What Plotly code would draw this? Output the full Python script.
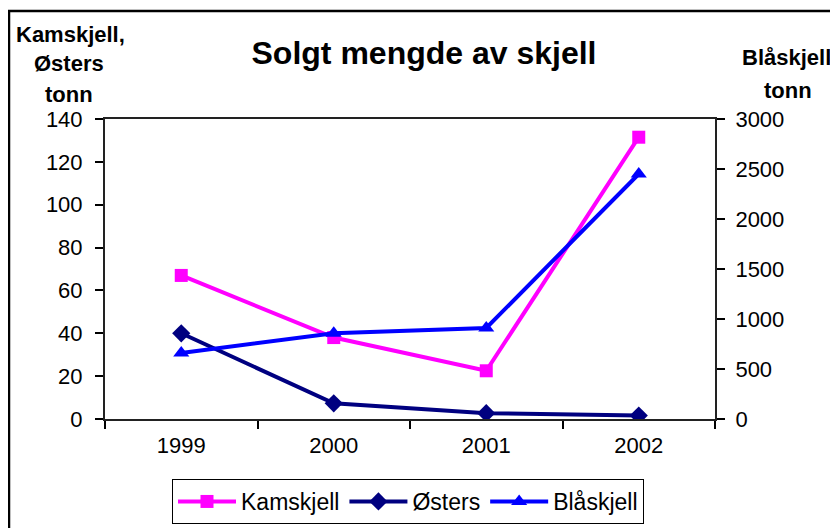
import plotly.graph_objects as go

years = ["1999", "2000", "2001", "2002"]
kamskjell = [67, 38, 22.5, 131.5]
osters = [40, 7.3, 2.7, 1.6]
blaskjell = [660, 857, 910, 2450]

left_ticks = [0, 20, 40, 60, 80, 100, 120, 140]
right_ticks = [0, 500, 1000, 1500, 2000, 2500, 3000]

FONT = "Liberation Sans, Arial, sans-serif"
OFF = 8  # default page body margin
W, H = 838 - OFF, 528 - OFF
# plot area in page pixels: x 105-715, y 119-419
L = 105 - OFF
T = 119 - OFF
R = W - (715 - OFF)
B = H - (419 - OFF)

fig = go.Figure()
fig.add_trace(go.Scatter(x=years, y=kamskjell, name="Kamskjell", mode="lines+markers",
                         line=dict(color="#FF00FF", width=4),
                         marker=dict(symbol="square", size=13, color="#FF00FF")))
fig.add_trace(go.Scatter(x=years, y=osters, name="Østers", mode="lines+markers",
                         line=dict(color="#000080", width=4),
                         marker=dict(symbol="diamond", size=14, color="#000080")))
fig.add_trace(go.Scatter(x=years, y=blaskjell, name="Blåskjell", mode="lines+markers",
                         yaxis="y2",
                         line=dict(color="#0000FF", width=4),
                         marker=dict(symbol="triangle-up", size=14, color="#0000FF")))

def px(pagex):
    return (pagex - OFF - L) / (W - L - R)

def py(pagey):
    return (H - B - (pagey - OFF)) / (H - T - B)

annotations = []
for text, cx, cy in [("Kamskjell,", 70, 35), ("Østers", 69, 64), ("tonn", 69, 95),
                     ("Blåskjell", 786, 58), ("tonn", 788, 90)]:
    annotations.append(dict(text=text, x=px(cx), y=py(cy),
                            xref="paper", yref="paper", showarrow=False,
                            xanchor="center", yanchor="middle",
                            font=dict(family=FONT, size=22, color="black", weight="bold")))

fig.update_layout(
    width=W, height=H,
    margin=dict(l=L, r=R, t=T, b=B, autoexpand=False),
    paper_bgcolor="white", plot_bgcolor="white",
    font=dict(family=FONT, size=22, color="black"),
    title=dict(text="<b>Solgt mengde av skjell</b>", x=(424 - OFF) / W,
               y=1 - (53 - OFF) / H, xanchor="center", yanchor="middle",
               font=dict(family=FONT, size=32, color="black")),
    xaxis=dict(type="category", categoryorder="array", categoryarray=years,
               range=[-0.5, 3.5],
               tickson="boundaries", ticks="outside", ticklen=8, tickwidth=1.5,
               tickcolor="black", showline=True, linecolor="#222", linewidth=2,
               mirror=True, showgrid=False, zeroline=False,
               ticklabelstandoff=6, tickfont=dict(size=22)),
    yaxis=dict(range=[0, 140], tickvals=left_ticks, ticks="outside", ticklen=8,
               tickwidth=1.5, tickcolor="black", showline=True, linecolor="#222",
               linewidth=2, showgrid=False, zeroline=False,
               ticklabelstandoff=8, tickfont=dict(size=22)),
    yaxis2=dict(range=[0, 3000], tickvals=right_ticks, overlaying="y", side="right",
                ticks="outside", ticklen=8, tickwidth=1.5, tickcolor="black",
                showline=True, linecolor="#222", linewidth=2, showgrid=False,
                zeroline=False, ticklabelstandoff=6, tickfont=dict(size=22)),
    legend=dict(orientation="h", x=px(408), y=py(479),
                xanchor="center", yanchor="top", bordercolor="black", borderwidth=1,
                bgcolor="white", font=dict(size=23), itemwidth=58,
                tracegroupgap=0),
    annotations=annotations,
    shapes=[dict(type="rect", xref="paper", yref="paper",
                 x0=px(9), x1=px(900), y0=py(600), y1=py(11),
                 line=dict(color="black", width=2.5), layer="below")],
)

fig.write_html("out.html")
